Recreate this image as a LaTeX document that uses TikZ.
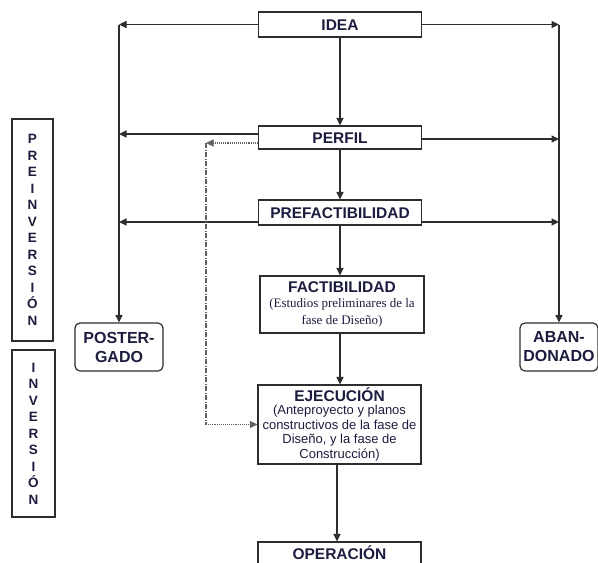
\documentclass[tikz,border=0pt]{standalone}
\usepackage{fontspec}
\setmainfont{Liberation Sans}
\newfontfamily\timesf{Liberation Serif}
\usetikzlibrary{arrows.meta}
\definecolor{txt}{RGB}{28,28,62}
\definecolor{ln}{RGB}{45,45,45}
\newcommand\subs{\fontsize{13}{15}\selectfont\mdseries}
\newcommand\subt{\timesf\fontsize{13}{15}\selectfont\mdseries}
\begin{document}
\begin{tikzpicture}[x=1pt,y=-1pt,
  box/.style={draw=ln, line width=1.2pt, text=txt, inner sep=0pt, align=center,
    font=\fontsize{15.5}{18}\selectfont\bfseries},
  onel/.style={box, text height=11pt, text depth=0pt},
  rbox/.style={box, rounded corners=5pt, font=\fontsize{16}{18}\selectfont\bfseries},
  vbox/.style={box, font=\fontsize{13.5}{16.5}\selectfont\bfseries},
  arr/.style={draw=ln, line width=1.3pt, -{Triangle[length=7.5pt,width=7pt]}},
  dotarr/.style={draw=ln!75, line width=1.1pt, densely dotted, -{Triangle[length=7.5pt,width=7pt]}},
  dashln/.style={draw=ln!75, line width=1.1pt, dash pattern=on 5pt off 1.5pt on 1pt off 1.5pt}]
\useasboundingbox (0,0) rectangle (598,563);
\clip (0,0) rectangle (598,563);

\node[onel, minimum width=163pt, minimum height=25pt] (idea) at (340,24.5) {IDEA};
\node[onel, minimum width=163pt, minimum height=23pt] (perfil) at (340,137.5) {PERFIL};
\node[onel, minimum width=163pt, minimum height=25pt] (pref) at (340,212.5) {PREFACTIBILIDAD};
\node[box, minimum width=164pt, minimum height=57pt] (fact) at (342,304.5)
  {FACTIBILIDAD\\[-3pt]\subt (Estudios preliminares de la\\[-1pt]\subt fase de Diseño)};
\node[box, minimum width=163pt, minimum height=79pt] (ejec) at (339.5,424.5)
  {EJECUCIÓN\\[-5pt]\subs (Anteproyecto y planos\\[-3.3pt]\subs constructivos de la fase de\\[-3.3pt]\subs Diseño, y la fase de\\[-3.3pt]\subs Construcción)};
\node[onel, minimum width=163pt, minimum height=23pt] (oper) at (339.5,553.5) {OPERACIÓN};

\node[rbox, minimum width=88pt, minimum height=48pt] (post) at (119,347) {POSTER-\\[1pt]GADO};
\node[rbox, minimum width=78pt, minimum height=48pt] (aban) at (559,347) {ABAN-\\[1pt]DONADO};

\node[vbox, minimum width=41pt, minimum height=222pt] (preinv) at (32.5,230)
  {P\\R\\E\\I\\N\\V\\E\\R\\S\\I\\Ó\\N};
\node[vbox, minimum width=43pt, minimum height=167pt] (inv) at (33.5,433.5)
  {I\\N\\V\\E\\R\\S\\I\\Ó\\N};

\coordinate (lt) at (119,24.5);
\coordinate (rt) at (559,24.5);
\coordinate (dx) at (206,0);

\draw[arr] (idea.west) -- (lt);
\draw[arr] (idea.east) -- (rt);
\draw[arr] (lt) -- (post.north);
\draw[arr] (rt) -- (aban.north);

\coordinate (pl) at ([yshift=3.5pt]perfil.west);
\coordinate (pr) at ([yshift=-1.5pt]perfil.east);
\coordinate (pd) at ([yshift=-5.5pt]perfil.west);
\draw[arr] (pl) -- (pl -| lt);
\draw[arr] (pr) -- (pr -| rt);

\coordinate (ql) at ([yshift=-9.5pt]pref.west);
\coordinate (qr) at ([yshift=-9.5pt]pref.east);
\draw[arr] (ql) -- (ql -| lt);
\draw[arr] (qr) -- (qr -| rt);

\draw[dotarr] (pd) -- (pd -| dx);
\draw[dashln] (pd -| dx) -- (dx |- ejec.west);
\draw[dotarr] (dx |- ejec.west) -- (ejec.west);

\draw[arr] (idea.south) -- (perfil.north);
\draw[arr] (perfil.south) -- (pref.north);
\draw[arr] (pref.south) -- (pref.south |- fact.north);
\draw[arr] (fact.south -| pref.south) -- (pref.south |- ejec.north);
\draw[arr] ([xshift=-2.5pt]ejec.south) -- ([xshift=-2.5pt]ejec.south |- oper.north);
\end{tikzpicture}
\end{document}
